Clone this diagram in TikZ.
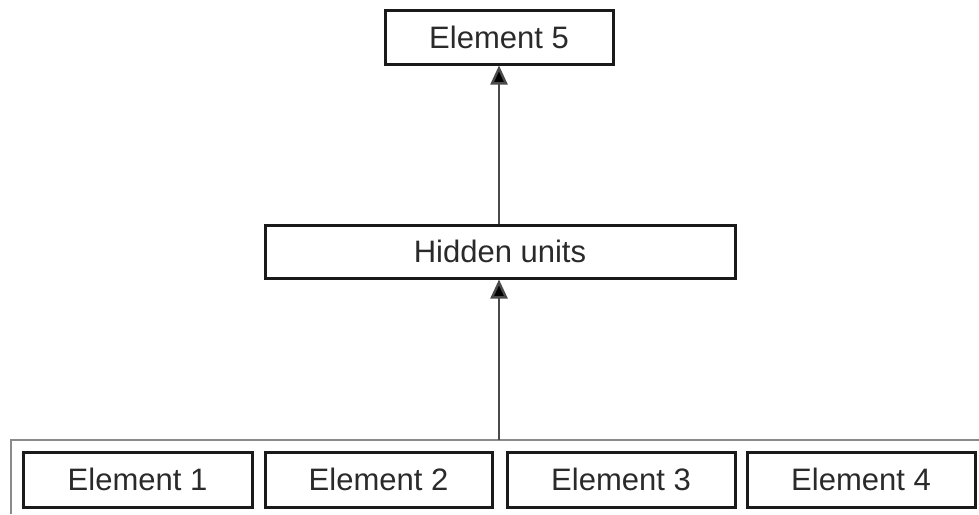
\documentclass[tikz,border=0pt]{standalone}
\usepackage{fontspec}
\setmainfont{Liberation Sans}
\usetikzlibrary{arrows.meta}
\definecolor{boxline}{HTML}{1A1A1A}
\definecolor{frameline}{HTML}{8A8A8A}
\definecolor{arrowline}{HTML}{4A4A4A}
\definecolor{textcol}{HTML}{2A2A2A}
\tikzset{
  elbox/.style={draw=boxline, line width=3pt, fill=white, inner sep=0pt, text=textcol, font=\fontsize{31}{34}\selectfont},
  uparrow/.style={draw=arrowline, line width=2.4pt, -{Triangle[length=19pt,width=17pt,fill=black]}},
  frame/.style={draw=frameline, line width=2.4pt}
}
\begin{document}
\begin{tikzpicture}[x=1pt,y=-1pt]
\useasboundingbox (0,0) rectangle (979,514);
% frame
\coordinate (fl) at (11,514);
\coordinate (ftl) at (11,440);
\coordinate (ftr) at (979,440);
\coordinate (fmid) at (499,440);
\draw[frame] (fl) -- (ftl) -- (ftr);
% nodes
\node[elbox, minimum width=228pt, minimum height=54pt] (e5) at (499,37) {Element 5};
\node[elbox, minimum width=470pt, minimum height=53pt] (hid) at (500,251.5) {Hidden units};
\node[elbox, minimum width=229pt, minimum height=55pt] (e1) at (137.5,479.5) {Element 1};
\node[elbox, minimum width=227pt, minimum height=55pt] (e2) at (378.5,479.5) {Element 2};
\node[elbox, minimum width=228pt, minimum height=55pt] (e3) at (621,479.5) {Element 3};
\node[elbox, minimum width=228pt, minimum height=55pt] (e4) at (861,479.5) {Element 4};
% connectors
\draw[uparrow] (fmid) -- (hid.south -| fmid);
\draw[uparrow] (hid.north -| fmid) -- (e5.south -| fmid);
\end{tikzpicture}
\end{document}
